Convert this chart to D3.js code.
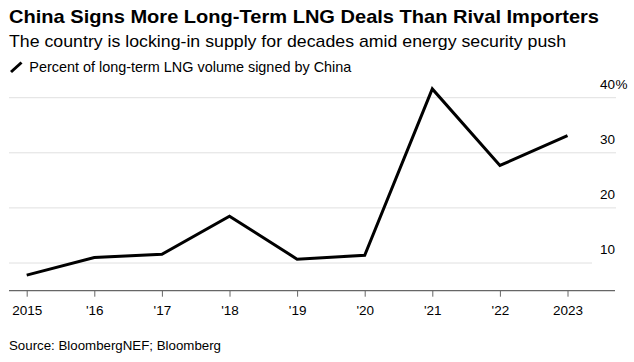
<!DOCTYPE html>
<html>
<head>
<meta charset="utf-8">
<script src="https://cdn.jsdelivr.net/npm/d3@7"></script>
<style>
  html, body { margin: 0; padding: 0; background: #fff; }
  svg { display: block; font-family: "Liberation Sans", Arial, sans-serif; }
</style>
</head>
<body>
<svg id="chart" width="634" height="362"></svg>
<script>
const years = [2015, 2016, 2017, 2018, 2019, 2020, 2021, 2022, 2023];
const yearLabels = ["2015", "'16", "'17", "'18", "'19", "'20", "'21", "'22", "2023"];
const chinaShare = [7.8, 11.0, 11.6, 18.5, 10.7, 11.4, 41.6, 27.7, 33.1];
const yTicks = [10, 20, 30, 40];

const title = "China Signs More Long-Term LNG Deals Than Rival Importers";
const subtitle = "The country is locking-in supply for decades amid energy security push";
const legendLabel = "Percent of long-term LNG volume signed by China";
const source = "Source: BloombergNEF; Bloomberg";

const svg = d3.select("#chart");

const x = d3.scaleLinear().domain([2015, 2023]).range([26.7, 567.5]);
const y = d3.scaleLinear().domain([0, 40]).range([318.1, 97.7]);

// Titles
svg.append("text").attr("x", 9).attr("y", 22.5)
  .attr("font-size", 18.5).attr("font-weight", "bold").attr("fill", "#000")
  .attr("textLength", 590).attr("lengthAdjust", "spacingAndGlyphs")
  .text(title);
svg.append("text").attr("x", 9).attr("y", 46.7)
  .attr("font-size", 17).attr("fill", "#000")
  .attr("textLength", 557).attr("lengthAdjust", "spacingAndGlyphs")
  .text(subtitle);

// Legend
svg.append("line").attr("x1", 11).attr("y1", 72).attr("x2", 21.5).attr("y2", 62.5)
  .attr("stroke", "#000").attr("stroke-width", 3);
svg.append("text").attr("x", 29.3).attr("y", 72.3)
  .attr("font-size", 14.5).attr("fill", "#000")
  .attr("textLength", 322).attr("lengthAdjust", "spacingAndGlyphs")
  .text(legendLabel);

// Gridlines
svg.append("g").selectAll("line").data(yTicks).join("line")
  .attr("x1", 9).attr("x2", d => d === 10 ? 592 : 616)
  .attr("y1", d => y(d)).attr("y2", d => y(d))
  .attr("stroke", "#e0e0e0").attr("stroke-width", 1);

// Y labels
svg.append("g").selectAll("text").data(yTicks).join("text")
  .attr("x", 615).attr("y", d => y(d) - 9)
  .attr("text-anchor", "end").attr("font-size", 13.5).attr("fill", "#000")
  .text(d => d);
svg.append("text").attr("x", 615.5).attr("y", y(40) - 9)
  .attr("font-size", 13.5).attr("fill", "#000").text("%");

// X axis
const axisY = 290.7;
const xAxis = d3.axisBottom(x).tickValues(years).tickSize(6).tickPadding(8.5)
  .tickFormat((d, i) => yearLabels[i]);
const gx = svg.append("g").attr("transform", `translate(0,${axisY})`).call(xAxis);
gx.select(".domain").remove();
gx.selectAll(".tick line").attr("stroke", "#666").attr("stroke-width", 1);
gx.selectAll(".tick text").attr("font-size", 13.5).attr("fill", "#000")
  .attr("font-family", "Liberation Sans, Arial, sans-serif");
svg.append("line").attr("x1", 9).attr("x2", 615).attr("y1", axisY).attr("y2", axisY)
  .attr("stroke", "#666").attr("stroke-width", 1.3);

// Line
const line = d3.line().x((d, i) => x(years[i])).y(d => y(d));
svg.append("path").datum(chinaShare).attr("d", line)
  .attr("fill", "none").attr("stroke", "#000").attr("stroke-width", 3)
  .attr("stroke-linejoin", "miter");

// Source
svg.append("text").attr("x", 9).attr("y", 350)
  .attr("font-size", 13.5).attr("fill", "#000")
  .attr("textLength", 212).attr("lengthAdjust", "spacingAndGlyphs")
  .text(source);
</script>
</body>
</html>
